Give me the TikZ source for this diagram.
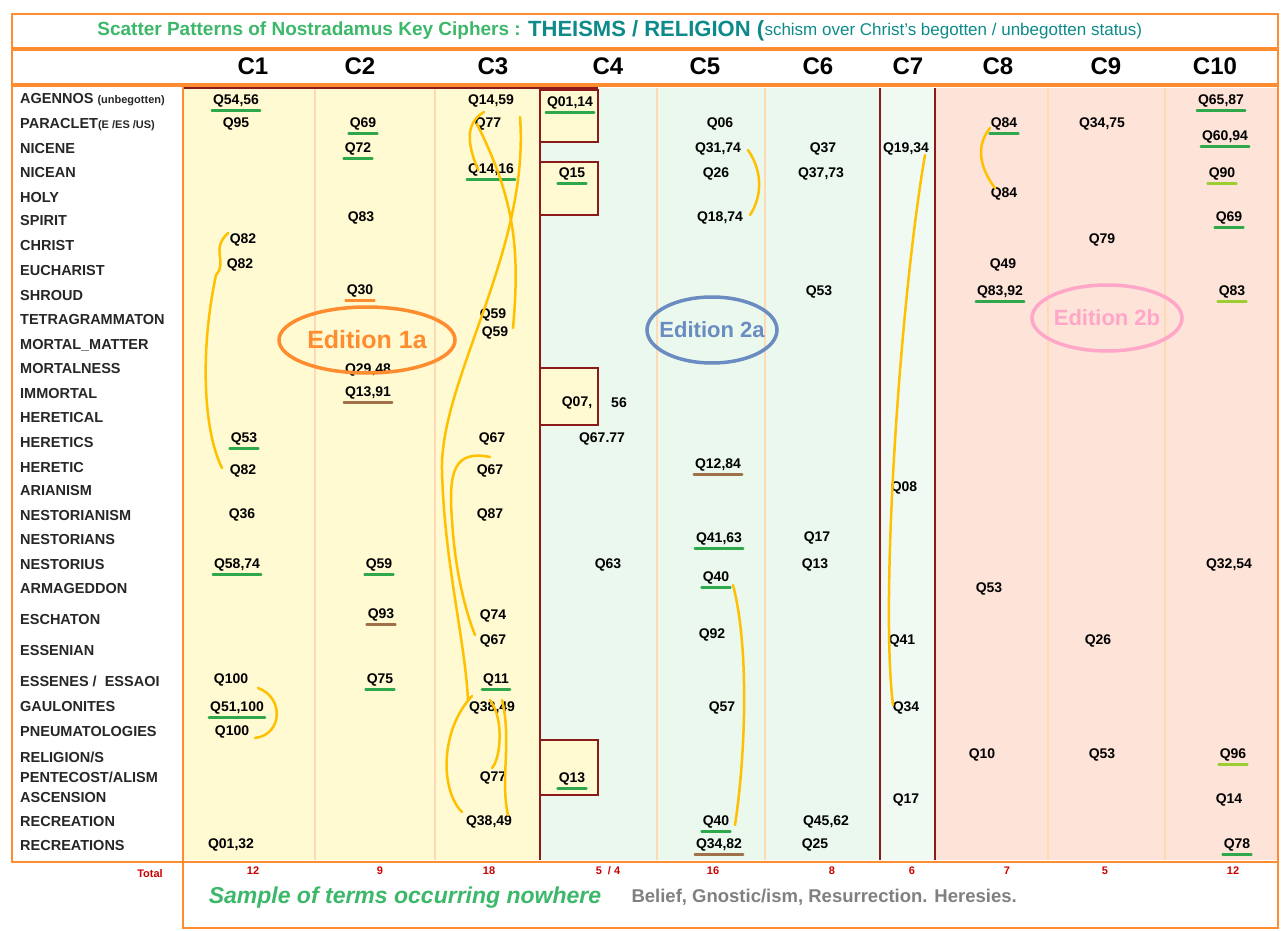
\documentclass[tikz,border=0pt]{standalone}
\usepackage{fontspec}
\setmainfont{Liberation Sans}
\definecolor{dred}{HTML}{8B1A1A}
\definecolor{orng}{HTML}{FF8C2E}
\definecolor{ylw}{HTML}{FFFAD2}
\definecolor{grn}{HTML}{EAF8EE}
\definecolor{pnk}{HTML}{FDE3D8}
\definecolor{gold}{HTML}{FFC000}
\definecolor{ugreen}{HTML}{2EA84A}
\definecolor{ulime}{HTML}{9ACD32}
\definecolor{ubrown}{HTML}{A0704A}
\definecolor{teal}{HTML}{0E8A8A}
\definecolor{ttlg}{HTML}{3DB86A}
\definecolor{edblue}{HTML}{6A8CC0}
\definecolor{edpink}{HTML}{FFA6C9}
\tikzset{
  q/.style={font=\fontsize{14}{14}\selectfont\bfseries, inner sep=1pt},
  lbl/.style={font=\fontsize{14.5}{14}\selectfont\bfseries, anchor=west, inner sep=0pt, text=black!85},
  hdr/.style={font=\fontsize{24}{24}\selectfont\bfseries},
  tot/.style={font=\fontsize{11}{11}\selectfont\bfseries, text=red!80!black},
  sep/.style={draw=orange!30, line width=1.5pt},
  curl/.style={draw=gold, line width=2.5pt, line cap=round},
  ug/.style={draw=ugreen, line width=2.5pt, line cap=round},
  ul/.style={draw=ulime, line width=2.5pt, line cap=round},
  ub/.style={draw=ubrown, line width=2.5pt, line cap=round},
  uo/.style={draw=orng, line width=2.5pt, line cap=round},
  redline/.style={draw=dred, line width=2.5pt},
}
\begin{document}
\begin{tikzpicture}[x=1pt,y=-1pt]
\useasboundingbox (0,0) rectangle (1283,931);
\fill[white] (0,0) rectangle (1283,931);

% background bands
\fill[ylw] (183,88) rectangle (540,860);
\fill[grn] (540,88) rectangle (880,860);
\fill[grn!70!white] (880,88) rectangle (935,860);
\fill[pnk] (935,88) rectangle (1278,860);
\foreach \x in {315,435,657,765,1048,1165} \draw[sep] (\x,88) -- (\x,860);

% C4 boxes and edition border
\foreach \ya/\yb in {90/142,162/215,368/425,740/795}
  \draw[redline, fill=ylw] (540,\ya) rectangle (598,\yb);
\draw[redline] (183,88) -- (598,88);
\draw[redline] (540,88) -- (540,860);
\draw[redline] (880,88) -- (880,860);
\draw[redline] (935,88) -- (935,860);

% frames
\draw[orng, line width=2.5pt] (12,14) rectangle (1278,48);
\draw[orng, line width=2.5pt] (12,50) rectangle (1278,84);
\draw[orng, line width=2.5pt] (12,86) rectangle (1278,862);
\draw[orng, line width=2.5pt] (183,86) -- (183,862);
\draw[orng, line width=2.5pt] (183,862) rectangle (1278,928);

% title
\node[anchor=east, font=\fontsize{19}{19}\selectfont\bfseries, text=ttlg, inner sep=0pt] (ttl) at (521,31) {Scatter Patterns of Nostradamus Key Ciphers :};
\node[anchor=west, font=\fontsize{22}{22}\selectfont\bfseries, text=teal, inner sep=0pt] (ttl2) at (528,31) {THEISMS / RELIGION (};
\node[anchor=west, font=\fontsize{17}{17}\selectfont, text=teal, inner sep=0pt] (ttl3) at (ttl2.east) {schism over Christ's begotten / unbegotten status)};

% column headers
\foreach \x/\c in {253/C1,360/C2,493/C3,608/C4,705/C5,818/C6,908/C7,998/C8,1106/C9,1215/C10}
  \node[hdr] (h\c) at (\x,66) {\c};

% row labels
\foreach \y/\t [count=\i] in {100/{AGENNOS {\fontsize{11}{11}\selectfont(unbegotten)}},125/{PARACLET{\fontsize{11}{11}\selectfont(E /ES /US)}},149/NICENE,173/NICEAN,198/HOLY,221/SPIRIT,246/CHRIST,271/EUCHARIST,296/SHROUD,320/TETRAGRAMMATON,345/MORTAL\_MATTER,369/MORTALNESS,394/IMMORTAL,418/HERETICAL,443/HERETICS,468/HERETIC,491/ARIANISM,516/NESTORIANISM,540/NESTORIANS,565/NESTORIUS,589/ARMAGEDDON,620/ESCHATON,651/ESSENIAN,681/{ESSENES /\ \ ESSAOI},707/GAULONITES,732/PNEUMATOLOGIES,757/{RELIGION/S},777/{PENTECOST/ALISM},798/ASCENSION,822/RECREATION,846/RECREATIONS}
  \node[lbl] (r\i) at (20,\y) {\t};

% cipher entries
\foreach \x/\y/\t [count=\i] in {
  236/101/{Q54,56}, 236/124/Q95, 243/240/Q82, 240/265/Q82, 244/439/Q53, 243/471/Q82, 242/515/Q36, 237/565/{Q58,74}, 231/680/Q100, 237/708/{Q51,100}, 232/732/Q100, 231/845/{Q01,32},
  363/124/Q69, 358/149/Q72, 361/218/Q83, 360/291/Q30, 368/370/{Q29,48}, 368/393/{Q13,91}, 379/565/Q59, 381/615/Q93, 380/680/Q75,
  491/101/{Q14,59}, 488/124/Q77, 491/170/{Q14,16}, 493/315/Q59, 495/333/Q59, 492/439/Q67, 490/471/Q67, 490/515/Q87, 493/616/Q74, 493/641/Q67, 496/680/Q11, 492/708/{Q38,49}, 493/778/Q77, 489/822/{Q38,49},
  570/103/{Q01,14}, 572/174/Q15, 577/403/{Q07,}, 619/403/56, 602/439/Q67.77, 608/565/Q63, 572/779/Q13,
  720/124/Q06, 718/149/{Q31,74}, 716/174/Q26, 720/218/{Q18,74}, 718/465/{Q12,84}, 719/539/{Q41,63}, 716/578/Q40, 712/635/Q92, 722/708/Q57, 716/822/Q40, 719/845/{Q34,82},
  823/149/Q37, 821/174/{Q37,73}, 819/292/Q53, 817/538/Q17, 815/565/Q13, 826/822/{Q45,62}, 815/845/Q25,
  906/149/{Q19,34}, 904/488/Q08, 902/641/Q41, 906/708/Q34, 906/800/Q17,
  1004/124/Q84, 1004/194/Q84, 1003/265/Q49, 1000/292/{Q83,92}, 989/589/Q53, 982/755/Q10,
  1102/124/{Q34,75}, 1102/240/Q79, 1098/641/Q26, 1102/755/Q53,
  1221/101/{Q65,87}, 1225/137/{Q60,94}, 1222/174/Q90, 1229/218/Q69, 1232/292/Q83, 1229/565/{Q32,54}, 1233/755/Q96, 1229/800/Q14, 1237/845/Q78}
  \node[q] (e\i) at (\x,\y) {\t};

% underlines
\foreach \n in {e1,e5,e8,e10,e13,e14,e19,e21,e24,e32,e36,e37,e42,e48,e49,e52,e66,e69,e76,e77,e79,e84}
  \draw[ug] ([yshift=-2pt]\n.south west) -- ([yshift=-2pt]\n.south east);
\foreach \n in {e78,e80,e82}
  \draw[ul] ([yshift=-2pt]\n.south west) -- ([yshift=-2pt]\n.south east);
\foreach \n in {e18,e20,e47,e53}
  \draw[ub] ([yshift=-2pt]\n.south west) -- ([yshift=-2pt]\n.south east);
\draw[uo] ([yshift=-2pt]e16.south west) -- ([yshift=-2pt]e16.south east);

% linking curves
\draw[curl] (228,233) .. controls (210,250) and (228,262) .. (216,275) .. controls (200,350) and (203,430) .. (222,468);
\draw[curl] (258,688) .. controls (285,698) and (282,735) .. (255,738);
\draw[curl] (484,112) .. controls (462,125) and (470,150) .. (478,170);
\draw[curl] (520,117) .. controls (530,250) and (440,380) .. (442,470) .. controls (444,560) and (465,640) .. (468,700);
\draw[curl] (477,124) .. controls (515,200) and (520,250) .. (513,328);
\draw[curl] (490,457) .. controls (455,450) and (448,470) .. (452,520) .. controls (455,570) and (465,610) .. (475,635);
\draw[curl] (472,696) .. controls (440,730) and (440,790) .. (462,812);
\draw[curl] (502,700) .. controls (512,740) and (500,780) .. (508,815);
\draw[curl] (490,700) .. controls (505,720) and (500,760) .. (492,768);
\draw[curl] (748,150) .. controls (765,175) and (760,200) .. (750,215);
\draw[curl] (733,585) .. controls (750,650) and (745,760) .. (735,825);
\draw[curl] (925,155) .. controls (900,300) and (880,600) .. (893,705);
\draw[curl] (990,128) .. controls (972,150) and (985,175) .. (995,188);

% edition ellipses
\draw[orng, line width=3.5pt] (367,340) ellipse [x radius=88, y radius=33];
\node[font=\fontsize{25}{25}\selectfont\bfseries, text=orng] (ed1) at (367,340) {Edition 1a};
\draw[edblue, line width=3.5pt] (712,330) ellipse [x radius=65, y radius=33];
\node[font=\fontsize{22}{22}\selectfont\bfseries, text=edblue] (ed2) at (712,330) {Edition 2a};
\draw[edpink, line width=3.5pt] (1107,318) ellipse [x radius=75, y radius=33];
\node[font=\fontsize{22}{22}\selectfont\bfseries, text=edpink] (ed3) at (1107,318) {Edition 2b};

% totals
\node[tot] (tt) at (150,874) {Total};
\foreach \x/\t [count=\i] in {253/12,380/9,489/18,608/{5\ \ /\ 4},713/16,832/8,912/6,1007/7,1105/5,1233/12}
  \node[tot] (t\i) at (\x,871) {\t};

% bottom note
\node[font=\fontsize{23}{23}\selectfont\bfseries\itshape, text=ttlg] (smp) at (405,898) {Sample of terms occurring nowhere};
\node[anchor=west, font=\fontsize{18.5}{18}\selectfont\bfseries, text=gray] (nw) at (628,897) {Belief, Gnostic/ism, Resurrection. Heresies.};
\end{tikzpicture}
\end{document}
